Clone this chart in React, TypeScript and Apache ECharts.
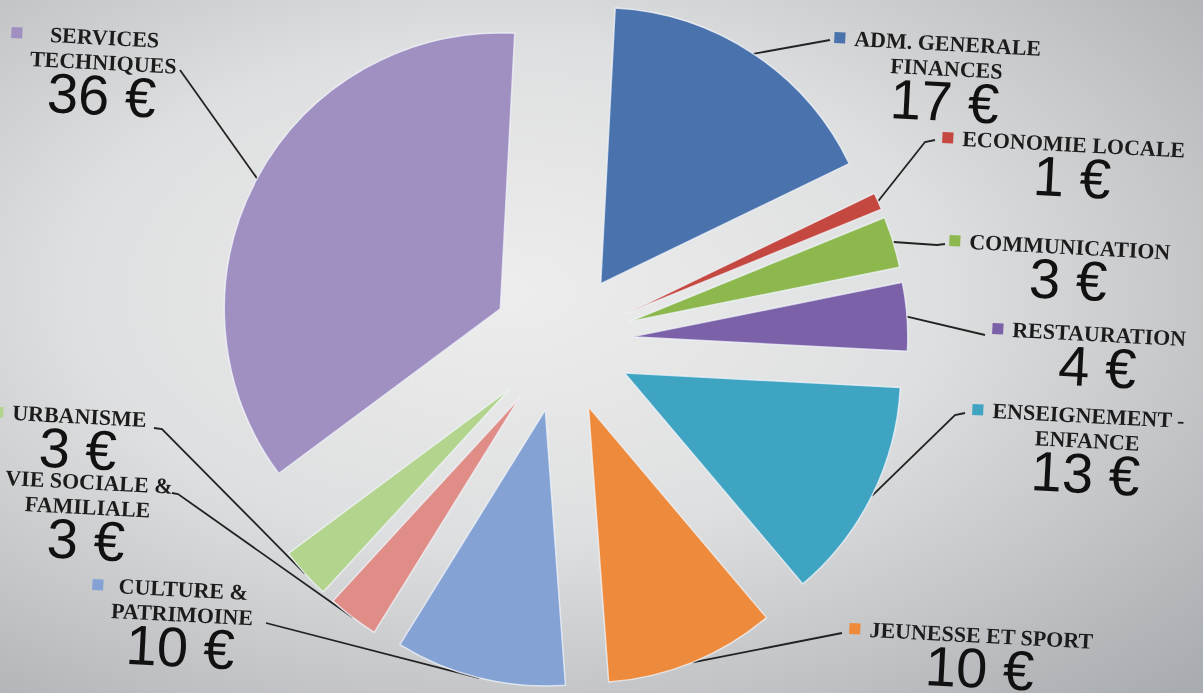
import React, { useEffect, useRef } from "react";
import * as echarts from "echarts";

// ---------- data ----------
const categories = [
  "ADM. GENERALE\nFINANCES",
  "ECONOMIE LOCALE",
  "COMMUNICATION",
  "RESTAURATION",
  "ENSEIGNEMENT -\nENFANCE",
  "JEUNESSE ET SPORT",
  "CULTURE &\nPATRIMOINE",
  "VIE SOCIALE &\nFAMILIALE",
  "URBANISME",
  "SERVICES\nTECHNIQUES",
];
const values = [17, 1, 3, 4, 13, 10, 10, 3, 3, 36];
const unit = "€";

// ---------- styles / layout ----------
const colors = [
  "#4a72ad",
  "#c4483f",
  "#8cb84e",
  "#7b61a8",
  "#3fa4c2",
  "#ee8a3c",
  "#84a2d4",
  "#e08d88",
  "#b3d48c",
  "#a090c2",
];
const pieCenter = [562, 342];
const pieRadius = 276;
const explode = 70;
const tiltDeg = 3; // whole picture slightly turned clockwise

// top-left of each label block (marker left x, top y)
const labelAnchors: number[][] = [
  [835, 25],
  [943, 125],
  [950, 228],
  [993, 316],
  [973, 397],
  [850, 616],
  [93, 572],
  [-14, 464],
  [-7, 399],
  [12, 20],
];
// leader line bends / ends (after the slice point)
const lineEnds: number[][][] = [
  [[830, 40]],
  [[925, 142], [935, 140]],
  [[937, 245], [945, 244]],
  [[985, 335]],
  [[955, 415], [965, 413]],
  [[842, 633]],
  [[266, 623]],
  [[178, 494], [172, 493]],
  [[162, 429], [154, 428]],
  [[180, 70]],
];

function buildLabel(name: string, value: number) {
  const lines = name.split("\n");
  const parts: string[] = [];
  lines.forEach((l, k) => {
    if (k === 0) parts.push(`{m|}{g|}{n|${l}}`);
    else parts.push(`{s|}{n|${l}}`);
  });
  parts.push(`{s|}{v|${value} ${unit}}`);
  return parts.join("\n");
}

function richFor(color: string) {
  return {
    m: { width: 11, height: 11, backgroundColor: color, align: "left" },
    g: { width: 9, align: "left" },
    s: { width: 20, align: "left" },
    n: {
      fontFamily: "Liberation Serif",
      fontWeight: "bold",
      fontSize: 22,
      lineHeight: 25,
      color: "#1c1c1c",
      align: "center",
    },
    v: {
      fontFamily: "Liberation Sans",
      fontSize: 56,
      lineHeight: 41,
      color: "#111111",
      align: "center",
    },
  };
}

export default function App() {
  const ref = useRef<HTMLDivElement>(null);
  useEffect(() => {
    if (!ref.current) return;
    const chart = echarts.init(ref.current, undefined, { renderer: "svg" });
    const total = values.reduce((a, b) => a + b, 0);
    let acc = 0;
    const mids = values.map((v) => {
      const m = acc + v / 2;
      acc += v;
      return m / total;
    });

    // one exploded pie per slice: every series holds all values, only its own slice is visible
    const series = values.map((v, i) => {
      const rad = ((tiltDeg + mids[i] * 360) * Math.PI) / 180;
      const c = [
        pieCenter[0] + explode * Math.sin(rad),
        pieCenter[1] - explode * Math.cos(rad),
      ];
      return {
        type: "pie",
        center: c,
        radius: [0, pieRadius],
        startAngle: 90 - tiltDeg,
        clockwise: true,
        avoidLabelOverlap: false,
        silent: true,
        z: i === values.length - 1 ? 2 : 3,
        emphasis: { disabled: true },
        itemStyle: { borderColor: "rgba(240,244,250,0.75)", borderWidth: 1.5 },
        label: { show: false, position: "outside" },
        labelLine: {
          show: false,
          length: 10,
          length2: 10,
          lineStyle: { color: "#222222", width: 1.8 },
        },
        labelLayout: (params: any) => {
          if (params.dataIndex !== i) return {};
          const [x, y] = labelAnchors[i];
          const res: any = { x, y, align: "left", verticalAlign: "top", rotate: -tiltDeg };
          const pts = params.labelLinePoints;
          if (pts && pts.length) {
            res.labelLinePoints = [pts[0], ...lineEnds[i]];
          }
          return res;
        },
        data: values.map((vv, j) =>
          j === i
            ? {
                value: vv,
                name: categories[j],
                itemStyle: { color: colors[j] },
                label: {
                  show: true,
                  formatter: buildLabel(categories[j], vv),
                  rich: richFor(colors[j]),
                },
                labelLine: { show: true },
              }
            : {
                value: vv,
                name: categories[j],
                itemStyle: { color: "rgba(0,0,0,0)", borderWidth: 0 },
                label: { show: false },
                labelLine: { show: false },
              }
        ),
      };
    });

    chart.setOption({
      animation: false,
      backgroundColor: {
        type: "radial",
        x: 0.42,
        y: 0.42,
        r: 0.8,
        colorStops: [
          { offset: 0, color: "#ededed" },
          { offset: 0.45, color: "#dedfe0" },
          { offset: 1, color: "#a9acb0" },
        ],
      },
      series,
    });
    return () => chart.dispose();
  }, []);
  return (
    <div
      ref={ref}
      style={{ position: "fixed", left: 0, top: 0, width: 1203, height: 693 }}
    />
  );
}
